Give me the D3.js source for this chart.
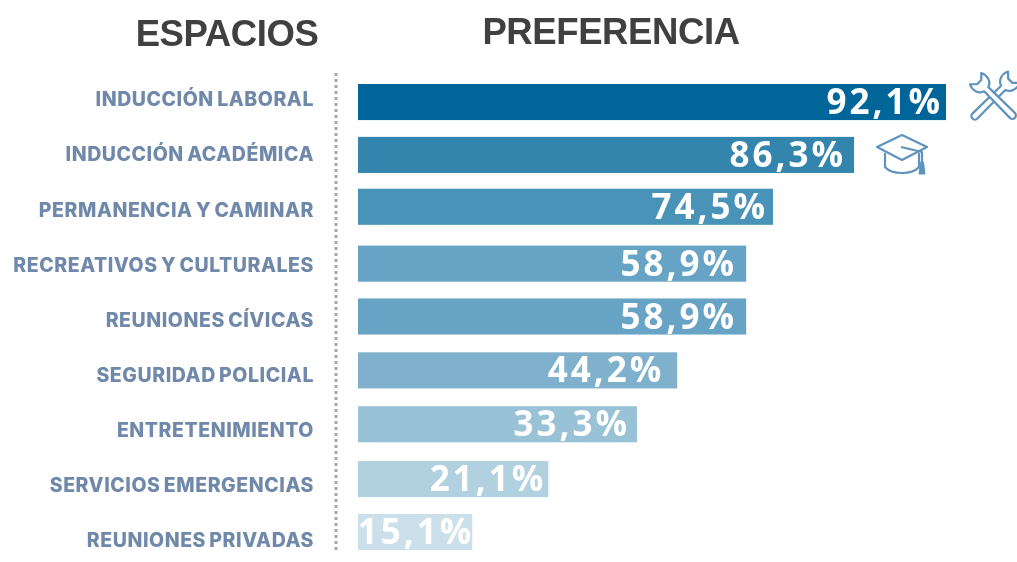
<!DOCTYPE html>
<html>
<head>
<meta charset="utf-8">
<script src="https://cdnjs.cloudflare.com/ajax/libs/d3/7.8.5/d3.min.js"></script>
<style>
  body { margin: 0; background: #fff; }
  svg { display: block; filter: blur(0.4px); }
</style>
</head>
<body>
<div id="chart"></div>
<script>
const categories = ["INDUCCIÓN LABORAL", "INDUCCIÓN ACADÉMICA", "PERMANENCIA Y CAMINAR", "RECREATIVOS Y CULTURALES", "REUNIONES CÍVICAS", "SEGURIDAD POLICIAL", "ENTRETENIMIENTO", "SERVICIOS EMERGENCIAS", "REUNIONES PRIVADAS"];
// printed percentages
const valueLabels = ["92,1%", "86,3%", "74,5%", "58,9%", "58,9%", "44,2%", "33,3%", "21,1%", "15,1%"];
// the bars in the picture are not proportional to their labels, so lengths are read separately
const barLengths = [92.1, 77.7, 65, 60.8, 60.8, 50, 43.7, 29.8, 17.9];
const barColors = ["#006699", "#3385ad", "#4a93b8", "#66a3c4", "#66a3c4", "#7fb0cc", "#99c2d6", "#b2d1e0", "#cce0eb"];

const width = 1017, height = 562;

// hand placement in the original: rows and labels sit a little off the regular grid
const rowNudge = [0, -1, -3, 0, -1, -1, -1, 0, -1];
const labelInset = [6, 11, 8, 12, 12, 16, 10, 5, 1];
const labelSpacing = 3;

const svg = d3.select("#chart")
  .append("svg")
  .attr("width", width)
  .attr("height", height);

const x = d3.scaleLinear()
  .domain([0, 92.1])
  .range([358, 946]);

const yBar = d3.scaleBand()
  .domain(categories)
  .range([84, 551])
  .paddingInner(0.33);

const yLabel = d3.scalePoint()
  .domain(categories)
  .range([99.5, 540.5]);

// titles
svg.append("text").attr("x", 227).attr("y", 46)
  .attr("text-anchor", "middle")
  .style("font", "bold 36.5px 'Liberation Sans'")
  .style("letter-spacing", "-0.4px")
  .style("fill", "#404040")
  .text("ESPACIOS");

svg.append("text").attr("x", 611).attr("y", 44)
  .attr("text-anchor", "middle")
  .style("font", "bold 36.5px 'Liberation Sans'")
  .style("letter-spacing", "-0.4px")
  .style("fill", "#404040")
  .text("PREFERENCIA");

// dotted separator
svg.append("line")
  .attr("x1", 336).attr("x2", 336)
  .attr("y1", 73).attr("y2", 553)
  .attr("stroke", "#a6a6a6")
  .attr("stroke-width", 3)
  .attr("stroke-dasharray", "3 3");

// category labels
svg.append("g")
  .attr("transform", "translate(314,0)")
  .call(d3.axisLeft(yLabel).tickSize(0).tickPadding(0))
  .call(g => g.select(".domain").remove())
  .call(g => g.selectAll(".tick text")
    .style("font-family", "Inter")
    .style("font-weight", "800")
    .style("font-size", "19.5px")
    .style("letter-spacing", "0.55px")
    .style("word-spacing", "-1.5px")
    .style("fill", "#7089ab"));

// bars
svg.selectAll(".bar")
  .data(categories)
  .enter()
  .append("rect")
  .attr("class", "bar")
  .attr("x", x(0))
  .attr("y", (d, i) => yBar(d) + rowNudge[i])
  .attr("width", (d, i) => x(barLengths[i]) - x(0))
  .attr("height", yBar.bandwidth())
  .attr("fill", (d, i) => barColors[i]);

svg.selectAll(".value")
  .data(categories)
  .enter()
  .append("text")
  .attr("class", "value")
  .attr("x", (d, i) => x(barLengths[i]) - labelInset[i] + labelSpacing)
  .attr("y", (d, i) => yBar(d) + rowNudge[i] + yBar.bandwidth() / 2 + 12)
  .attr("text-anchor", "end")
  .style("font", "bold 35px 'Open Sans'")
  .style("letter-spacing", labelSpacing + "px")
  .style("fill", "#fff")
  .text((d, i) => valueLabels[i]);

// icons
const iconColor = "#5f93bf";

const tools = svg.append("g")
  .attr("transform", "translate(994,97)")
  .attr("fill", "#fff")
  .attr("stroke", iconColor)
  .attr("stroke-width", 2.2)
  .attr("stroke-linejoin", "round");

tools.append("path")
  .attr("transform", "rotate(45)")
  .attr("d", "M-3,-13 C-9,-15 -11,-22 -8,-28 L-3,-23 L3,-23 L8,-28 C11,-22 9,-15 3,-13 L3.5,27 A3.5,3.5 0 0 1 -3.5,27 Z");

tools.append("path")
  .attr("transform", "rotate(-45)")
  .attr("d", "M-3,-11 C-9,-13 -11,-20 -8,-26 L-3,-21 L3,-21 L8,-26 C11,-20 9,-13 3,-11 L3.5,26 A3.5,3.5 0 0 1 -3.5,26 Z");

const cap = svg.append("g")
  .attr("transform", "translate(902,147)")
  .attr("fill", "none")
  .attr("stroke", iconColor)
  .attr("stroke-width", 2.2)
  .attr("stroke-linejoin", "round");

cap.append("path").attr("d", "M-17,6 L-17,20 C-10,28 10,28 17,20 L17,6");
cap.append("path").attr("fill", "#fff").attr("d", "M0,-12 L25,0 L0,13 L-25,0 Z");
cap.append("path").attr("d", "M-1,0 L20,5 L20,16");
cap.append("path").attr("fill", iconColor).attr("stroke-width", 1).attr("d", "M18.5,15 L21.5,15 L23,27 L17,27 Z");
</script>
</body>
</html>
